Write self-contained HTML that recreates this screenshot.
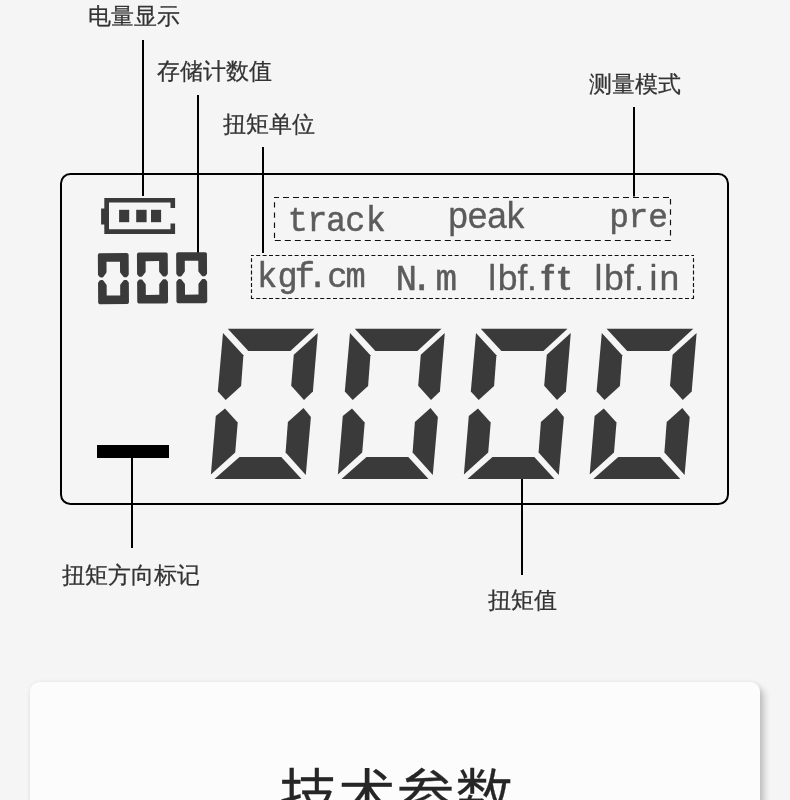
<!DOCTYPE html>
<html lang="zh-CN">
<head>
<meta charset="utf-8">
<title>技术参数</title>
<style>
html,body{margin:0;padding:0;width:790px;height:800px;overflow:hidden;background:#f5f5f5;}
body{font-family:"Liberation Sans","WenQuanYi Zen Hei",sans-serif;}
.page{position:relative;width:790px;height:800px;overflow:hidden;background:#f5f5f5;}
svg{position:absolute;left:0;top:0;display:block;will-change:transform;}
.card{position:absolute;left:30px;top:682px;width:730px;height:140px;background:#fcfcfc;border-radius:9.5px;box-shadow:4px 5px 7px rgba(0,0,0,0.22),0 0 5px rgba(0,0,0,0.06);}
.lbl{font-family:"Liberation Sans","WenQuanYi Zen Hei","Noto Sans CJK SC",sans-serif;font-size:23px;fill:#333;stroke:#333;stroke-width:0.25px;}
.mono{font-family:"Liberation Mono","Noto Sans CJK SC",monospace;fill:#5c5c5c;stroke:#5c5c5c;stroke-width:0.5px;stroke-linejoin:round;}
.sans{font-family:"Liberation Sans","Noto Sans CJK SC",sans-serif;fill:#5a5a5a;stroke:#5a5a5a;stroke-width:0.3px;stroke-linejoin:round;}
.title{font-family:"Liberation Sans","Noto Sans CJK SC",sans-serif;font-size:58px;font-weight:350;letter-spacing:0.7px;fill:#262626;stroke:#262626;stroke-width:0.3px;}
</style>
</head>
<body>
<div class="page">
<div class="card"></div>
<svg width="790" height="800" viewBox="0 0 790 800">
  <!-- callout labels -->
  <text class="lbl" x="88" y="24">电量显示</text>
  <text class="lbl" x="157" y="79">存储计数值</text>
  <text class="lbl" x="223" y="132">扭矩单位</text>
  <text class="lbl" x="589" y="92">测量模式</text>
  <text class="lbl" x="62" y="583">扭矩方向标记</text>
  <text class="lbl" x="488" y="608">扭矩值</text>

  <!-- LCD panel outline -->
  <rect x="61" y="174" width="667" height="330" rx="9.5" ry="9.5" fill="none" stroke="#000" stroke-width="2"/>

  <!-- leader lines -->
  <g stroke="#000" stroke-width="2" fill="none">
    <line x1="143" y1="40" x2="143" y2="196"/>
    <line x1="198" y1="95" x2="198" y2="253"/>
    <line x1="263" y1="147" x2="263" y2="253"/>
    <line x1="634" y1="107" x2="634" y2="196.5"/>
    <line x1="132" y1="458" x2="132" y2="548"/>
    <line x1="522" y1="479" x2="522" y2="575"/>
  </g>

  <!-- battery indicator -->
  <g fill="#3a3a3a">
    <path d="M104.3 198H175.1V208.1H170.5V202.6H109V229.2H170.5V223.6H175.1V233.9H104.3Z"/>
    <rect x="101.1" y="208.5" width="4" height="16"/>
    <rect x="119.1" y="209.8" width="10.1" height="12.4"/>
    <rect x="136.2" y="209.8" width="10.4" height="12.4"/>
    <rect x="151" y="209.8" width="10.1" height="12.4"/>
  </g>

  <!-- stored count digits -->
  <g fill="#3a3a3a" transform="rotate(-0.4 152.5 278)" role="img" aria-label="000">
    <title>000</title>
    <g transform="translate(98 252.9)">
      <path d="M2 0L1.48 0.07L1 0.27L0.59 0.59L0.27 1L0.07 1.48L0 2L0 20.92L0.05 21.35L0.19 21.77L0.41 22.14L1.4 23.42L1.84 23.84L2.38 24.11L2.98 24.2L3.9 24.2L4.36 24.15L4.8 23.99L5.18 23.74L5.5 23.41L8.2 19.83L8.5 19.27L8.6 18.63L8.6 8.6L22.1 8.6L22.1 18.62L22.15 19.05L22.29 19.47L22.52 19.84L25.3 23.43L25.74 23.84L26.28 24.11L26.88 24.2L27.82 24.2L28.42 24.11L28.96 23.84L29.4 23.42L30.39 22.14L30.61 21.77L30.75 21.35L30.8 20.92L30.8 2L30.73 1.48L30.53 1L30.21 0.59L29.8 0.27L29.32 0.07L28.8 0Z"/>
      <path d="M0 49L0.07 49.52L0.27 50L0.59 50.41L1 50.73L1.48 50.93L2 51L28.8 51L29.32 50.93L29.8 50.73L30.21 50.41L30.53 50L30.73 49.52L30.8 49L30.8 30.08L30.75 29.65L30.61 29.23L30.39 28.86L29.4 27.58L28.96 27.16L28.42 26.89L27.82 26.8L26.88 26.8L26.28 26.89L25.74 27.16L25.3 27.57L22.52 31.16L22.29 31.53L22.15 31.95L22.1 32.38L22.1 42.4L8.6 42.4L8.6 32.37L8.5 31.73L8.2 31.17L5.5 27.59L5.18 27.26L4.8 27.01L4.36 26.85L3.9 26.8L2.98 26.8L2.38 26.89L1.84 27.16L1.4 27.58L0.41 28.86L0.19 29.23L0.05 29.65L0 30.08Z"/>
    </g>
    <g transform="translate(137.1 252.5)">
      <path d="M2 0L1.48 0.07L1 0.27L0.59 0.59L0.27 1L0.07 1.48L0 2L0 20.92L0.05 21.35L0.19 21.77L0.41 22.14L1.4 23.42L1.84 23.84L2.38 24.11L2.98 24.2L3.9 24.2L4.36 24.15L4.8 23.99L5.18 23.74L5.5 23.41L8.2 19.83L8.5 19.27L8.6 18.63L8.6 8.6L22.1 8.6L22.1 18.62L22.15 19.05L22.29 19.47L22.52 19.84L25.3 23.43L25.74 23.84L26.28 24.11L26.88 24.2L27.82 24.2L28.42 24.11L28.96 23.84L29.4 23.42L30.39 22.14L30.61 21.77L30.75 21.35L30.8 20.92L30.8 2L30.73 1.48L30.53 1L30.21 0.59L29.8 0.27L29.32 0.07L28.8 0Z"/>
      <path d="M0 49L0.07 49.52L0.27 50L0.59 50.41L1 50.73L1.48 50.93L2 51L28.8 51L29.32 50.93L29.8 50.73L30.21 50.41L30.53 50L30.73 49.52L30.8 49L30.8 30.08L30.75 29.65L30.61 29.23L30.39 28.86L29.4 27.58L28.96 27.16L28.42 26.89L27.82 26.8L26.88 26.8L26.28 26.89L25.74 27.16L25.3 27.57L22.52 31.16L22.29 31.53L22.15 31.95L22.1 32.38L22.1 42.4L8.6 42.4L8.6 32.37L8.5 31.73L8.2 31.17L5.5 27.59L5.18 27.26L4.8 27.01L4.36 26.85L3.9 26.8L2.98 26.8L2.38 26.89L1.84 27.16L1.4 27.58L0.41 28.86L0.19 29.23L0.05 29.65L0 30.08Z"/>
    </g>
    <g transform="translate(176.3 252.5)">
      <path d="M2 0L1.48 0.07L1 0.27L0.59 0.59L0.27 1L0.07 1.48L0 2L0 20.92L0.05 21.35L0.19 21.77L0.41 22.14L1.4 23.42L1.84 23.84L2.38 24.11L2.98 24.2L3.9 24.2L4.36 24.15L4.8 23.99L5.18 23.74L5.5 23.41L8.2 19.83L8.5 19.27L8.6 18.63L8.6 8.6L22.1 8.6L22.1 18.62L22.15 19.05L22.29 19.47L22.52 19.84L25.3 23.43L25.74 23.84L26.28 24.11L26.88 24.2L27.82 24.2L28.42 24.11L28.96 23.84L29.4 23.42L30.39 22.14L30.61 21.77L30.75 21.35L30.8 20.92L30.8 2L30.73 1.48L30.53 1L30.21 0.59L29.8 0.27L29.32 0.07L28.8 0Z"/>
      <path d="M0 49L0.07 49.52L0.27 50L0.59 50.41L1 50.73L1.48 50.93L2 51L28.8 51L29.32 50.93L29.8 50.73L30.21 50.41L30.53 50L30.73 49.52L30.8 49L30.8 30.08L30.75 29.65L30.61 29.23L30.39 28.86L29.4 27.58L28.96 27.16L28.42 26.89L27.82 26.8L26.88 26.8L26.28 26.89L25.74 27.16L25.3 27.57L22.52 31.16L22.29 31.53L22.15 31.95L22.1 32.38L22.1 42.4L8.6 42.4L8.6 32.37L8.5 31.73L8.2 31.17L5.5 27.59L5.18 27.26L4.8 27.01L4.36 26.85L3.9 26.8L2.98 26.8L2.38 26.89L1.84 27.16L1.4 27.58L0.41 28.86L0.19 29.23L0.05 29.65L0 30.08Z"/>
    </g>
  </g>

  <!-- mode / unit frames -->
  <g fill="none" stroke="#111" stroke-width="1.15">
    <path d="M274 197.5H671" stroke-dasharray="6 4" stroke-dashoffset="1"/>
    <path d="M274 240.5H671" stroke-dasharray="6 4" stroke-dashoffset="-0.8"/>
    <path d="M274.5 202.2V240" stroke-dasharray="5.3 4.9"/>
    <path d="M670.5 198.9V241" stroke-dasharray="5.5 4.9"/>
    <path d="M251 255.5H694M251 298.5H694" stroke-dasharray="4 2.4" stroke-dashoffset="1.2"/>
    <path d="M251.5 255.5V298.5M693.5 255.5V298.5" stroke-dasharray="3.9 2.3" stroke-dashoffset="3.5"/>
  </g>

  <!-- mode and unit text -->
  <text class="mono" transform="scale(0.9331 1)" x="308.32 329.27 349.37 370.04 391.98" y="231" font-size="35.8">track</text>
  <text class="sans" x="448.18" y="227.7" font-size="36" textLength="76.25" lengthAdjust="spacingAndGlyphs">peak</text>
  <text class="mono" transform="scale(1 1)" x="609.31 628.59 648.29" y="227.2" font-size="32.8">pre</text>
  <text class="mono" transform="scale(0.9817 1)" x="261.71 282.7 300.37 313.12 333.41 352.08" y="286.9" font-size="34.3">kgf.cm</text>
  <text class="mono" transform="scale(0.9907 1)" x="399.32 414.78 439.66" y="289.8" font-size="36.2">N.m</text>
  <text class="sans" x="488.2" y="290" font-size="35.5" dx="0 1.7 0 -0.4">lbf.<tspan dx="4.1" textLength="12.8" lengthAdjust="spacingAndGlyphs">f</tspan><tspan dx="3.8" textLength="12.8" lengthAdjust="spacingAndGlyphs">t</tspan></text>
  <text class="sans" x="594.4" y="290" font-size="35.5" dx="0 1.7 0.2 0.5 5.3 2">lbf.in</text>

  <!-- torque value digits -->
  <g fill="#3a3a3a" role="img" aria-label="0000">
    <title>0000</title>
    <g>
      <polygon points="227.8,328.8 314.5,328.8 290.4,351.1 248.4,351.1"/>
      <polygon points="223,333 243.4,355.2 241.1,386 225.7,399.9 217.8,391.4"/>
      <polygon points="317.8,333 312.9,391.4 304,400.1 291.2,385.8 293.8,354.8"/>
      <polygon points="225,408.4 237.7,422.6 235.2,452.5 210.9,474.6 215.8,416"/>
      <polygon points="303.5,408.1 310.9,417 305.8,474.9 285.6,452.5 287.9,421.9"/>
      <polygon points="214.5,479 301.5,479 281.3,457.1 239.5,457.1"/>
    </g>
    <g>
      <polygon points="354.8,328.8 441.5,328.8 417.4,351.1 375.4,351.1"/>
      <polygon points="350,333 370.4,355.2 368.1,386 352.7,399.9 344.8,391.4"/>
      <polygon points="444.8,333 439.9,391.4 431,400.1 418.2,385.8 420.8,354.8"/>
      <polygon points="352,408.4 364.7,422.6 362.2,452.5 337.9,474.6 342.8,416"/>
      <polygon points="430.5,408.1 437.9,417 432.8,474.9 412.6,452.5 414.9,421.9"/>
      <polygon points="341.5,479 428.5,479 408.3,457.1 366.5,457.1"/>
    </g>
    <g>
      <polygon points="480.8,328.8 567.5,328.8 543.4,351.1 501.4,351.1"/>
      <polygon points="476,333 496.4,355.2 494.1,386 478.7,399.9 470.8,391.4"/>
      <polygon points="570.8,333 565.9,391.4 557,400.1 544.2,385.8 546.8,354.8"/>
      <polygon points="478,408.4 490.7,422.6 488.2,452.5 463.9,474.6 468.8,416"/>
      <polygon points="556.5,408.1 563.9,417 558.8,474.9 538.6,452.5 540.9,421.9"/>
      <polygon points="467.5,479 554.5,479 534.3,457.1 492.5,457.1"/>
    </g>
    <g>
      <polygon points="606.6,328.8 693.3,328.8 669.2,351.1 627.2,351.1"/>
      <polygon points="601.8,333 622.2,355.2 619.9,386 604.5,399.9 596.6,391.4"/>
      <polygon points="696.6,333 691.7,391.4 682.8,400.1 670,385.8 672.6,354.8"/>
      <polygon points="603.8,408.4 616.5,422.6 614,452.5 589.7,474.6 594.6,416"/>
      <polygon points="682.3,408.1 689.7,417 684.6,474.9 664.4,452.5 666.7,421.9"/>
      <polygon points="593.3,479 680.3,479 660.1,457.1 618.3,457.1"/>
    </g>
  </g>

  <!-- torque direction mark -->
  <rect x="97" y="445" width="72" height="13" fill="#000"/>

  <!-- section title -->
  <text class="title" x="279.2" y="816.7">技术参数</text>
</svg>
</div>
</body>
</html>
